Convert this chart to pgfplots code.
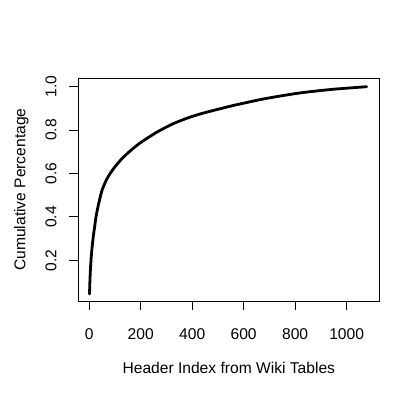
\documentclass[border=0pt]{standalone}
\usepackage{fontspec}
\setmainfont{Liberation Sans}
\usepackage{pgfplots}
\pgfplotsset{compat=1.18}

\begin{document}
\begin{tikzpicture}
\begin{axis}[
    scale only axis,
    width=301pt, height=222.7pt,
    xmin=-42.5, xmax=1127,
    ymin=0.0124, ymax=1.0387,
    xtick={0,200,400,600,800,1000},
    xticklabels={0,200,400,600,800,1000},
    ytick={0.2,0.4,0.6,0.8,1.0},
    yticklabels={0.2,0.4,0.6,0.8,1.0},
    xtick pos=bottom, ytick pos=left,
    tick align=outside,
    major tick length=9pt,
    tick style={black, line width=0.8pt},
    axis line style={line width=0.8pt},
    every tick label/.append style={font=\fontsize{15.6}{18}\selectfont, inner sep=0pt},
    xticklabel style={anchor=north, yshift=-18pt},
    yticklabel style={rotate=90, anchor=base, yshift=13pt},
    label style={font=\fontsize{15.6}{18}\selectfont},
    xlabel={Header Index from Wiki Tables},
    ylabel={Cumulative Percentage},
    xlabel style={at={(axis description cs:0.5,0)}, anchor=center, yshift=-67pt},
    ylabel style={at={(axis description cs:0,0.5)}, anchor=center, yshift=57pt},
]
\addplot[black, line width=2.8pt, line cap=round, smooth] coordinates {
    (1,0.045) (3,0.115) (5,0.165) (8,0.220) (12,0.270) (16,0.312)
    (21,0.355) (27,0.405) (34,0.447) (42,0.488) (50,0.524) (60,0.553)
    (70,0.578) (80,0.598) (100,0.631) (122,0.662) (145,0.689)
    (170,0.715) (190,0.734) (209,0.750) (248,0.780) (274,0.798)
    (313,0.822) (339,0.836) (378,0.854) (403,0.864) (430,0.874)
    (461,0.884) (507,0.898) (558,0.913) (623,0.930) (662,0.940)
    (688,0.946) (752,0.959) (817,0.971) (881,0.980) (946,0.988)
    (1010,0.994) (1078,1.000)
};
\end{axis}
\path (-78.3pt,-99pt) rectangle (341.7pt,301pt);
\end{tikzpicture}
\end{document}
